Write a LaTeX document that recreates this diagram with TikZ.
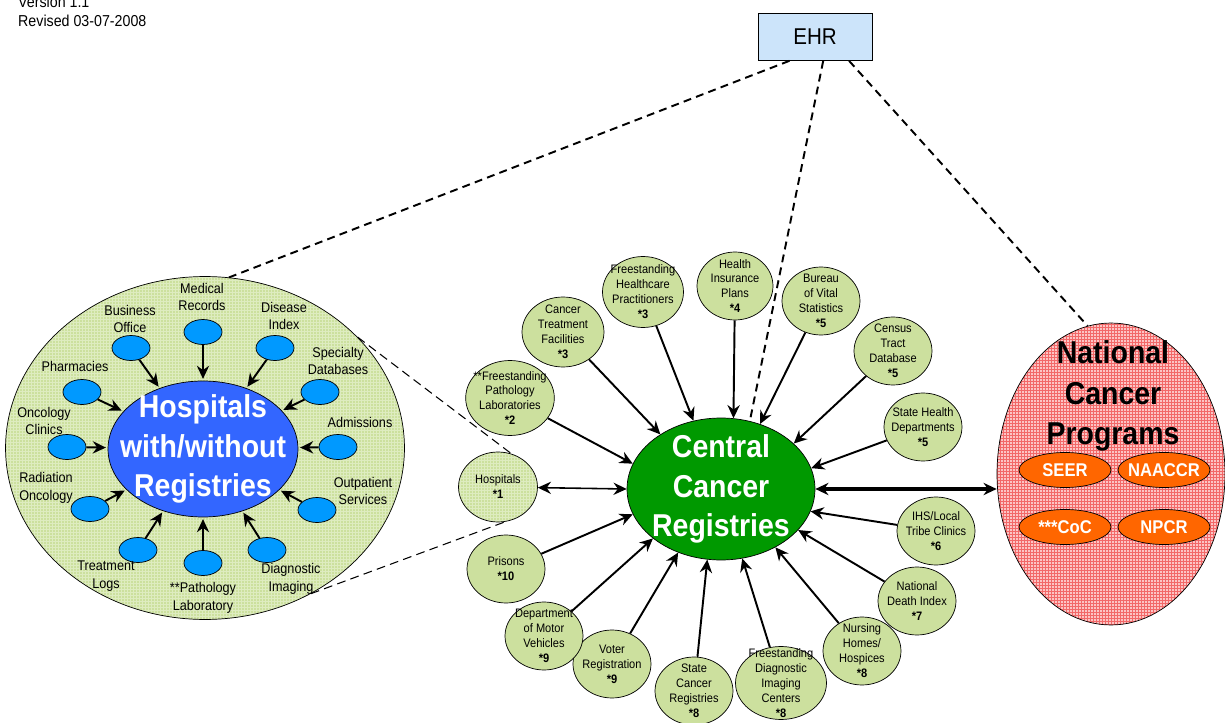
\documentclass[tikz,border=0pt]{standalone}
\usepackage{fontspec}
\setmainfont[FakeStretch=0.9]{Liberation Sans}
\usetikzlibrary{shapes.geometric,arrows.meta}

\definecolor{srcgreen}{RGB}{204,224,158}
\definecolor{gridgreen}{RGB}{222,236,192}
\definecolor{hospblue}{RGB}{51,102,255}
\definecolor{feedblue}{RGB}{0,153,255}
\definecolor{ccrgreen}{RGB}{0,153,0}
\definecolor{ehrblue}{RGB}{204,228,250}
\definecolor{ncppink}{RGB}{252,196,196}
\definecolor{gridred}{RGB}{242,104,104}
\definecolor{progorange}{RGB}{255,102,0}

\begin{document}
\begin{tikzpicture}[%
    x=0.02cm,
    y=-0.02cm,
    >={Stealth[length=7.5pt,width=7pt,inset=2.5pt]},
    gridfill/.style={%
      path picture={\draw[#1, line width=0.35pt, step=0.06cm]
        (path picture bounding box.south west) grid (path picture bounding box.north east);}
    },
    src/.style={%
      ellipse,
      draw,
      fill=srcgreen,
      inner sep=-3pt,
      minimum width=1.56cm,
      minimum height=1.36cm,
      align=center,
      font=\fontsize{7}{8.5}\selectfont
    },
    feed/.style={%
      ellipse,
      draw,
      fill=feedblue,
      minimum width=0.76cm,
      minimum height=0.5cm
    },
    lbl/.style={align=center, font=\fontsize{8}{10.2}\selectfont},
    prog/.style={%
      ellipse,
      draw,
      fill=progorange,
      text=white,
      inner sep=-3pt,
      minimum width=1.84cm,
      minimum height=0.7cm,
      font=\bfseries\fontsize{10.5}{12}\selectfont
    },
    bigtext/.style={align=center, font=\bfseries\fontsize{18}{22.7}\selectfont},
    arr/.style={->, line width=1.1pt},
    link/.style={line width=1.1pt, dash pattern=on 4.5pt off 3pt},
    zoomline/.style={line width=0.6pt, dash pattern=on 5pt off 3pt}
  ]
    \useasboundingbox (0,0) rectangle (1225,723);

    % version note
    \node[anchor=west, font=\fontsize{9}{10.8}\selectfont] (ver) at (12,2)  {Version 1.1};
    \node[anchor=west, font=\fontsize{9}{10.8}\selectfont] (rev) at (12,21) {Revised 03-07-2008};

    \node[draw, fill=ehrblue, minimum width=2.28cm, minimum height=0.94cm,
          font=\fontsize{13}{15}\selectfont] (ehr) at (815,37) {EHR};

    % hospitals
    \node[ellipse, draw, fill=srcgreen, gridfill=gridgreen,
          minimum width=7.98cm, minimum height=6.86cm] (hsys) at (205,448) {};
    \node[ellipse, draw, fill=hospblue, text=white, bigtext, inner sep=-10pt,
          minimum width=3.8cm, minimum height=2.72cm] (hwr) at (203,449) {Hospitals\\with/without\\Registries};

    \node[feed] (mr) at (203,332) {};
    \node[feed] (bo) at (131,348) {};
    \node[feed] (di) at (275,348) {};
    \node[feed] (ph) at (82,392)  {};
    \node[feed] (sd) at (320,392) {};
    \node[feed] (oc) at (67,447)  {};
    \node[feed] (ad) at (338,447) {};
    \node[feed] (ro) at (90,509)  {};
    \node[feed] (os) at (317,510) {};
    \node[feed] (tl) at (138,550) {};
    \node[feed] (pl) at (203,563) {};
    \node[feed] (dg) at (267,550) {};

    \node[lbl] (mrl) at (202,297) {Medical\\Records};
    \node[lbl] (bol) at (130,319) {Business\\Office};
    \node[lbl] (dil) at (284,316) {Disease\\Index};
    \node[lbl] (phl) at (75,366)  {Pharmacies};
    \node[lbl] (sdl) at (338,361) {Specialty\\Databases};
    \node[lbl] (ocl) at (44,421)  {Oncology\\Clinics};
    \node[lbl] (adl) at (360,422) {Admissions};
    \node[lbl] (rol) at (46,488)  {Radiation\\Oncology};
    \node[lbl] (osl) at (363,491) {Outpatient\\Services};
    \node[lbl] (tll) at (106,576) {Treatment\\Logs};
    \node[lbl] (pll) at (203,598) {**Pathology\\Laboratory};
    \node[lbl] (dgl) at (291,579) {Diagnostic\\Imaging};

    \foreach \f in {mr,bo,di,ph,sd,oc,ad,ro,os,tl,pl,dg}
      \draw[arr, shorten >=1pt] (\f) -- (hwr);

    % central registries and sources
    \node[ellipse, draw, fill=ccrgreen, text=white, bigtext, inner sep=-4pt,
          minimum width=3.76cm, minimum height=2.84cm] (ccr) at (721,489) {Central\\Cancer\\Registries};

    \node[src, gridfill=gridgreen, minimum width=1.58cm, minimum height=1.4cm] (hsp) at (498,487) {Hospitals\\\textbf{*1}};
    \node[src, minimum width=1.72cm, minimum height=1.5cm] (fpl) at (510,398) {**Freestanding\\Pathology\\Laboratories\\\textbf{*2}};
    \node[src, minimum width=1.64cm, minimum height=1.4cm] (ctf) at (563,332) {Cancer\\Treatment\\Facilities\\\textbf{*3}};
    \node[src, minimum width=1.62cm, minimum height=1.42cm] (fhp) at (643,292) {Freestanding\\Healthcare\\Practitioners\\\textbf{*3}};
    \node[src, minimum width=1.52cm] (hip) at (735,286) {Health\\Insurance\\Plans\\\textbf{*4}};
    \node[src] (bvs) at (821,301) {Bureau\\of Vital\\Statistics\\\textbf{*5}};
    \node[src] (ctd) at (893,351) {Census\\Tract\\Database\\\textbf{*5}};
    \node[src] (shd) at (923,427) {State Health\\Departments\\\textbf{*5}};
    \node[src] (ihs) at (936,531) {IHS/Local\\Tribe Clinics\\\textbf{*6}};
    \node[src] (ndi) at (917,601) {National\\Death Index\\\textbf{*7}};
    \node[src] (nhh) at (862,651) {Nursing\\Homes/\\Hospices\\\textbf{*8}};
    \node[src, inner ysep=-5pt, minimum width=1.82cm, minimum height=1.46cm] (fdi) at (781,683) {Freestanding\\Diagnostic\\Imaging\\Centers\\\textbf{*8}};
    \node[src] (scr) at (694,691) {State\\Cancer\\Registries\\\textbf{*8}};
    \node[src] (vot) at (612,664) {Voter\\Registration\\\textbf{*9}};
    \node[src] (dmv) at (544,636) {Department\\of Motor\\Vehicles\\\textbf{*9}};
    \node[src] (pri) at (506,569) {Prisons\\\textbf{*10}};

    % national programs
    \node[ellipse, draw, fill=ncppink, gridfill=gridred,
          minimum width=4.56cm, minimum height=6.04cm] (ncp) at (1111,474) {};
    \node[bigtext, font=\bfseries\fontsize{18}{23}\selectfont] (ncpt) at (1113,396) {National\\Cancer\\Programs};
    \node[prog] (seer)   at (1065,470) {SEER};
    \node[prog] (naaccr) at (1164,470) {NAACCR};
    \node[prog] (coc)    at (1065,527) {***CoC};
    \node[prog] (npcr)   at (1164,527) {NPCR};

    \draw[arr] (fpl) -- (ccr.164);
    \draw[arr] (ctf) -- (ccr.138);
    \draw[arr] (fhp) -- (ccr.112);
    \draw[arr] (hip) -- (ccr.80);
    \draw[arr] (bvs) -- (ccr.59);
    \draw[arr] (ctd) -- (ccr.32);
    \draw[arr] (shd) -- (ccr.13);
    \draw[arr] (ihs) -- (ccr.-14);
    \draw[arr] (ndi) -- (ccr.-28);
    \draw[arr] (nhh) -- (ccr.-47);
    \draw[arr] (fdi) -- (ccr.-73);
    \draw[arr] (scr) -- (ccr.-101);
    \draw[arr] (vot) -- (ccr.-124);
    \draw[arr] (dmv) -- (ccr.-144);
    \draw[arr] (pri) -- (ccr.-164);
    \draw[<->, line width=0.9pt] (hsp) -- (ccr.180);
    \draw[<->, line width=2pt] (ccr.east) -- (ccr.east -| ncp.west);

    % dashed links
    \draw[link] (ehr.223) -- (hsys.82);
    \draw[link] (ehr.289) -- (ccr.67);
    \draw[link] (ehr.325) -- (ncp.99);
    \draw[zoomline] (hsys.36) -- (hsp.68);
    \draw[zoomline] (hsys.-54) -- (hsp.-78);
\end{tikzpicture}
\end{document}
